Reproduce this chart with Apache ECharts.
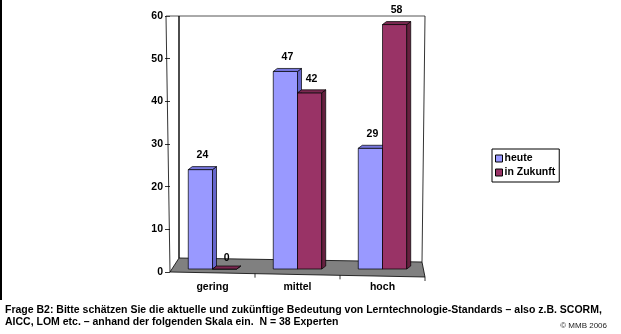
<!DOCTYPE html>
<html>
<head>
<meta charset="utf-8">
<script src="https://cdn.jsdelivr.net/npm/echarts@6/dist/echarts.min.js"></script>
<style>
  html, body { margin: 0; padding: 0; background: #fff; }
  #chart { width: 621px; height: 334px; }
</style>
</head>
<body>
<div id="chart"></div>
<script>
// Survey answers in percent
const categories = ['gering', 'mittel', 'hoch'];
const heute = [24, 47, 29];
const zukunft = [0, 42, 58];
const yTicks = [0, 10, 20, 30, 40, 50, 60];
const seriesNames = ['heute', 'in Zukunft'];

const FONT = '"Liberation Sans", Arial, sans-serif';
const LBL = 'bold 10.5px ' + FONT;

// Pseudo-3D block: front face, right side face, top face and the value label
function blockRenderer(side, front, sideCol, topCol) {
  return function (params, api) {
    const idx = api.value(0);
    const v = api.value(1);
    const top = api.coord([idx, v]);
    const base = api.coord([idx, 0]);
    const band = api.size([1, 0])[0];
    const w = band * 0.285;
    const x0 = side === 0 ? top[0] - w : top[0];
    const x1 = x0 + w;
    const yb = base[1] - 3;
    const yt = Math.min(top[1], yb);
    const dx = 4, dy = 3;
    const st = { stroke: '#000', lineWidth: 0.7 };
    return {
      type: 'group',
      children: [
        { type: 'rect', shape: { x: x0, y: yt, width: w, height: yb - yt },
          style: Object.assign({ fill: front }, st) },
        { type: 'polygon', shape: { points: [[x1, yt], [x1 + dx, yt - dy], [x1 + dx, yb - dy], [x1, yb]] },
          style: Object.assign({ fill: sideCol }, st) },
        { type: 'polygon', shape: { points: [[x0, yt], [x0 + dx, yt - dy], [x1 + dx, yt - dy], [x1, yt]] },
          style: Object.assign({ fill: topCol }, st) },
        { type: 'text', style: { text: String(v), x: (x0 + x1) / 2 + 2, y: top[1] - 14,
          align: 'center', verticalAlign: 'middle', font: LBL, fill: '#000' } }
      ]
    };
  };
}

// Walls, floor and category ticks of the 3D plot area
function frameRenderer(params, api) {
  const cs = params.coordSys;
  const gx = cs.x, gy = cs.y, gw = cs.width, gh = cs.height;
  const yf = gy + gh;
  const FL = [gx, yf], FR = [gx + gw, yf + 5], BR = [gx + gw - 3, yf - 10], BL = [gx + 9, yf - 14];
  const children = [
    { type: 'polygon', shape: { points: [FL, FR, BR, BL] },
      style: { fill: '#808080', stroke: '#000', lineWidth: 0.8 } },
    { type: 'line', shape: { x1: gx - 4, y1: gy, x2: gx + gw, y2: gy },
      style: { stroke: '#555', lineWidth: 1 } },
    { type: 'line', shape: { x1: BL[0], y1: gy, x2: BL[0], y2: BL[1] },
      style: { stroke: '#000', lineWidth: 1.4 } },
    { type: 'line', shape: { x1: gx + gw, y1: gy, x2: BR[0], y2: BR[1] },
      style: { stroke: '#000', lineWidth: 0.8 } },
    { type: 'line', shape: { x1: gx - 4, y1: gy, x2: gx, y2: yf },
      style: { stroke: '#000', lineWidth: 0.8 } }
  ];
  const n = categories.length;
  for (let i = 1; i <= n; i++) {
    const x = gx + gw * i / n;
    const y = yf + 5 * i / n;
    children.push({ type: 'line', shape: { x1: x, y1: y, x2: x, y2: y + 4 },
      style: { stroke: '#000', lineWidth: 0.8 } });
  }
  return { type: 'group', children: children };
}

const chart = echarts.init(document.getElementById('chart'), null, { renderer: 'canvas' });

chart.setOption({
  animation: false,
  backgroundColor: '#fff',
  textStyle: { fontFamily: FONT },
  grid: { left: 170, top: 16, width: 255, height: 256 },
  legend: {
    orient: 'vertical', left: 492, top: 149,
    data: seriesNames,
    icon: 'rect', itemWidth: 7, itemHeight: 7, itemGap: 3,
    padding: [4, 4, 4, 3],
    borderColor: '#000', borderWidth: 1,
    textStyle: { fontFamily: FONT, fontWeight: 'bold', fontSize: 10.5, color: '#000', padding: [0, 0, 0, -3] },
    itemStyle: { borderColor: '#000', borderWidth: 1 }
  },
  xAxis: {
    type: 'category', data: categories,
    axisLine: { show: false }, axisTick: { show: false },
    axisLabel: { color: '#000', fontWeight: 'bold', fontSize: 10.5, fontFamily: FONT, margin: 10 }
  },
  yAxis: {
    type: 'value', min: yTicks[0], max: yTicks[yTicks.length - 1], interval: yTicks[1] - yTicks[0],
    splitLine: { show: false },
    axisLine: { show: false },
    axisTick: { show: true, length: 5, lineStyle: { color: '#000', width: 0.8 } },
    axisLabel: { color: '#000', fontWeight: 'bold', fontSize: 10.5, fontFamily: FONT, margin: 7 }
  },
  series: [
    { name: 'frame', type: 'custom', renderItem: frameRenderer, data: [[0, 0]], z: 1, silent: true },
    { name: seriesNames[0], type: 'custom', z: 2,
      itemStyle: { color: '#9999FF' },
      renderItem: blockRenderer(0, '#9999FF', '#6666CC', '#7777DD'),
      data: heute.map((v, i) => [i, v]) },
    { name: seriesNames[1], type: 'custom', z: 3,
      itemStyle: { color: '#993366' },
      renderItem: blockRenderer(1, '#993366', '#66203F', '#7A2850'),
      data: zukunft.map((v, i) => [i, v]) }
  ],
  graphic: [
    { type: 'rect', left: 0, top: 0, shape: { width: 2, height: 300 }, style: { fill: '#000' } },
    { type: 'text', left: 5, top: 305,
      style: { text: 'Frage B2: Bitte schätzen Sie die aktuelle und zukünftige Bedeutung von Lerntechnologie-Standards – also z.B. SCORM,',
        font: LBL, fill: '#000' } },
    { type: 'text', left: 5, top: 317,
      style: { text: 'AICC, LOM etc. – anhand der folgenden Skala ein.  N = 38 Experten', font: LBL, fill: '#000' } },
    { type: 'text', right: 14, top: 322,
      style: { text: '© MMB 2006', font: '8px ' + FONT, fill: '#222' } }
  ]
});
</script>
</body>
</html>
